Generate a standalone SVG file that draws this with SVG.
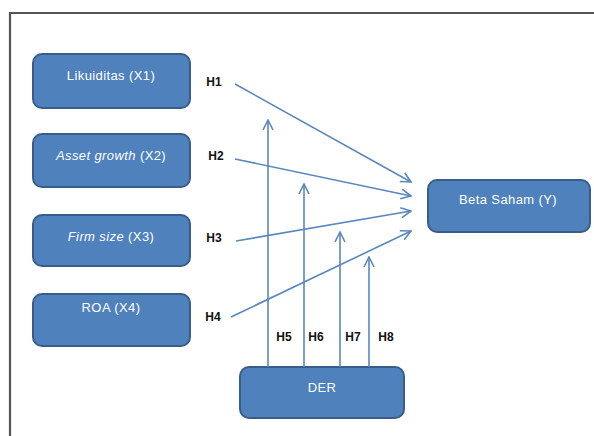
<svg xmlns="http://www.w3.org/2000/svg" width="594" height="436" viewBox="0 0 594 436">
<defs>
<style>
.box{fill:#4F81BD;stroke:#385D8A;stroke-width:2}
.bt{fill:#fff;font-family:"Liberation Sans",Arial,sans-serif;font-size:13px;letter-spacing:0.4px;text-anchor:middle}
.h{fill:#111;font-family:"Liberation Sans",Arial,sans-serif;font-size:12px;font-weight:bold;text-anchor:middle}
.c{stroke:#5A87BE;stroke-width:1.6;fill:none;marker-end:url(#ah)}
</style>
<marker id="ah" viewBox="0 0 12 12" refX="11" refY="6" markerWidth="12" markerHeight="12" markerUnits="userSpaceOnUse" orient="auto">
<path d="M1,1 L11,6 L1,11" fill="none" stroke="#5A87BE" stroke-width="1.6"/>
</marker>
</defs>
<rect width="594" height="436" fill="#fff"/>
<path d="M10,440 L10,13 L600,13" fill="none" stroke="#555" stroke-width="2.2"/>
<g id="x1"><rect class="box" x="33" y="54" width="157" height="54" rx="9"/><text class="bt" x="111" y="80">Likuiditas (X1)</text></g>
<g id="x2"><rect class="box" x="33" y="134" width="157" height="53" rx="9"/><text class="bt" x="111" y="160"><tspan font-style="italic">Asset growth</tspan> (X2)</text></g>
<g id="x3"><rect class="box" x="33" y="215" width="157" height="51" rx="9"/><text class="bt" x="111" y="241"><tspan font-style="italic">Firm size</tspan> (X3)</text></g>
<g id="x4"><rect class="box" x="33" y="294" width="157" height="52" rx="9"/><text class="bt" x="111" y="312">ROA (X4)</text></g>
<g id="y"><rect class="box" x="428" y="180" width="162" height="52" rx="9"/><text class="bt" x="508" y="204">Beta Saham (Y)</text></g>
<g id="der"><rect class="box" x="240" y="367" width="164" height="51" rx="9"/><text class="bt" x="322" y="392">DER</text></g>
<g id="connectors">
<line class="c" x1="235" y1="84" x2="411" y2="182"/>
<line class="c" x1="235" y1="159" x2="411" y2="196"/>
<line class="c" x1="236" y1="241" x2="411" y2="211"/>
<line class="c" x1="231" y1="317" x2="411" y2="231"/>
<line class="c" x1="268" y1="367" x2="268" y2="120"/>
<line class="c" x1="304" y1="367" x2="304" y2="184"/>
<line class="c" x1="340" y1="367" x2="340" y2="232"/>
<line class="c" x1="369" y1="367" x2="369" y2="257"/>
</g>
<g id="labels">
<text class="h" x="214" y="86">H1</text>
<text class="h" x="216" y="160">H2</text>
<text class="h" x="214" y="242">H3</text>
<text class="h" x="213" y="321">H4</text>
<text class="h" x="284" y="341">H5</text>
<text class="h" x="316" y="341">H6</text>
<text class="h" x="353" y="341">H7</text>
<text class="h" x="386" y="341">H8</text>
</g>
</svg>
